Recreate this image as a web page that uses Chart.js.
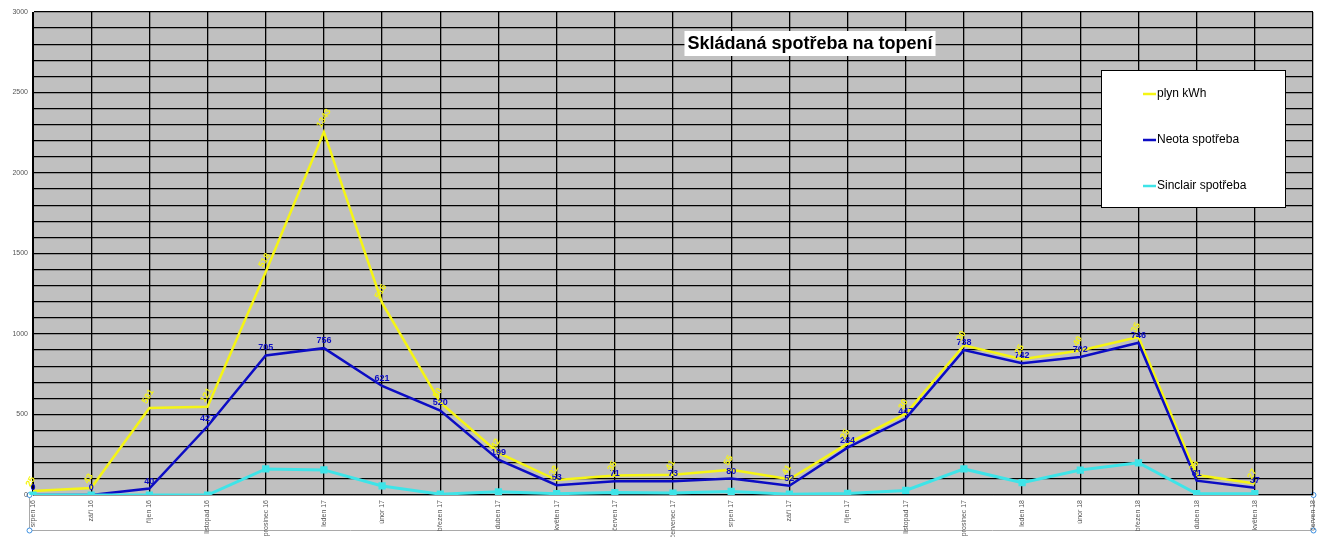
<!DOCTYPE html>
<html>
<head>
<meta charset="utf-8">
<script src="https://cdn.jsdelivr.net/npm/chart.js@4/dist/chart.umd.min.js"></script>
<style>
  body { margin: 0; background: #fff; }
  #wrap { width: 1321px; height: 537px; }
</style>
</head>
<body>
<div id="wrap"><canvas id="spotreba" width="1321" height="537"></canvas></div>
<script>
const months = [
  "srpen 16", "září 16", "říjen 16", "listopad 16", "prosinec 16",
  "leden 17", "únor 17", "březen 17", "duben 17", "květen 17",
  "červen 17", "červenec 17", "srpen 17", "září 17", "říjen 17",
  "listopad 17", "prosinec 17", "leden 18", "únor 18", "březen 18",
  "duben 18", "květen 18", "červen 18",
];
const sinclair = [0, 0, 0, 0, 162, 156, 56, 5, 20, 8, 15, 12, 22, 5, 10, 28, 162, 77, 155, 200, 8, 8, null];
const neota = [0, 0, 40, 427, 705, 756, 621, 520, 199, 53, 71, 73, 80, 52, 284, 447, 738, 742, 702, 746, 81, 37, null];
const plyn = [25, 43, 501, 121, 518, 1343, 516, 50, 42, 32, 35, 41, 55, 41, 25, 30, 30, 25, 40, 35, 35, 27, null];

const yMax = 3000;
const labelEvery = 500;

const YELLOW = "#f5f514";
const BLUE = "#0c0cc4";
const CYAN = "#3ee4e8";

// grey plot area + the thin frame round the axis labels
const background = {
  id: "background",
  beforeDraw(chart) {
    const { ctx, chartArea: a } = chart;
    ctx.save();
    ctx.fillStyle = "#c0c0c0";
    ctx.fillRect(a.left, a.top, a.right - a.left, a.bottom - a.top);
    ctx.strokeStyle = "#a9a9a9";
    ctx.lineWidth = 1;
    ctx.beginPath();
    ctx.moveTo(29.5, a.bottom);
    ctx.lineTo(29.5, 530.5);
    ctx.lineTo(a.right + 0.5, 530.5);
    ctx.lineTo(a.right + 0.5, a.bottom);
    ctx.stroke();
    ctx.fillStyle = "#fff";
    ctx.strokeStyle = "#3a8ee0";
    [[29.5, a.bottom], [29.5, 530.5], [a.right + 0.5, a.bottom], [a.right + 0.5, 530.5]].forEach(([x, y]) => {
      ctx.beginPath();
      ctx.arc(x, y, 2.5, 0, Math.PI * 2);
      ctx.fill();
      ctx.stroke();
    });
    ctx.restore();
  },
};

// value labels: Neota upright in blue, plyn tilted in yellow
const valueLabels = {
  id: "valueLabels",
  afterDatasetsDraw(chart) {
    const { ctx } = chart;
    ctx.save();
    const neotaMeta = chart.getDatasetMeta(1);
    ctx.font = "bold 9px 'Liberation Sans', Arial, sans-serif";
    ctx.fillStyle = BLUE;
    ctx.textAlign = "center";
    ctx.textBaseline = "bottom";
    neotaMeta.data.forEach((p, i) => {
      if (neota[i] == null) return;
      ctx.fillText(String(neota[i]), p.x, p.y - 3);
    });
    const plynMeta = chart.getDatasetMeta(2);
    ctx.font = "bold 9px 'Liberation Sans', Arial, sans-serif";
    ctx.fillStyle = YELLOW;
    ctx.textAlign = "left";
    ctx.textBaseline = "middle";
    plynMeta.data.forEach((p, i) => {
      if (plyn[i] == null) return;
      ctx.save();
      ctx.translate(p.x - 5, p.y - 5);
      ctx.rotate(-Math.PI / 3);
      ctx.fillText(String(plyn[i]), 0, 0);
      ctx.restore();
    });
    ctx.restore();
  },
};

const titleBox = {
  id: "titleBox",
  afterDraw(chart) {
    const { ctx } = chart;
    const text = "Skládaná spotřeba na topení";
    ctx.save();
    ctx.font = "bold 18px 'Liberation Sans', Arial, sans-serif";
    const w = ctx.measureText(text).width;
    const cx = 810;
    ctx.fillStyle = "#fff";
    ctx.fillRect(cx - w / 2 - 3, 31, w + 6, 25);
    ctx.fillStyle = "#000";
    ctx.textAlign = "center";
    ctx.textBaseline = "middle";
    ctx.fillText(text, cx, 44);
    ctx.restore();
  },
};

const legendBox = {
  id: "legendBox",
  afterDraw(chart) {
    const { ctx } = chart;
    const items = [
      ["plyn kWh", YELLOW],
      ["Neota spotřeba", BLUE],
      ["Sinclair spotřeba", CYAN],
    ];
    ctx.save();
    ctx.fillStyle = "#fff";
    ctx.fillRect(1101, 70, 184, 137);
    ctx.strokeStyle = "#000";
    ctx.lineWidth = 1;
    ctx.strokeRect(1101.5, 70.5, 184, 137);
    ctx.font = "12px 'Liberation Sans', Arial, sans-serif";
    ctx.textBaseline = "middle";
    items.forEach(([label, color], i) => {
      const y = 94 + i * 46;
      ctx.strokeStyle = color;
      ctx.lineWidth = 2.5;
      ctx.beginPath();
      ctx.moveTo(1143, y);
      ctx.lineTo(1156, y);
      ctx.stroke();
      ctx.fillStyle = "#000";
      ctx.fillText(label, 1157, y);
    });
    ctx.restore();
  },
};

new Chart(document.getElementById("spotreba"), {
  type: "line",
  data: {
    labels: months,
    datasets: [
      {
        label: "Sinclair spotřeba",
        data: sinclair,
        borderColor: CYAN,
        backgroundColor: CYAN,
        borderWidth: 3,
        pointStyle: "rect",
        pointRadius: 3,
        fill: false,
        tension: 0,
      },
      {
        label: "Neota spotřeba",
        data: neota,
        borderColor: BLUE,
        backgroundColor: BLUE,
        borderWidth: 2.5,
        pointRadius: 0,
        fill: false,
        tension: 0,
      },
      {
        label: "plyn kWh",
        data: plyn,
        borderColor: YELLOW,
        backgroundColor: YELLOW,
        borderWidth: 2.5,
        pointRadius: 0,
        fill: false,
        tension: 0,
      },
    ],
  },
  options: {
    responsive: false,
    animation: false,
    layout: { padding: { top: 12, right: 8, left: 0, bottom: 0 } },
    plugins: {
      legend: { display: false },
      title: { display: false },
      tooltip: { enabled: false },
    },
    scales: {
      x: {
        offset: false,
        grid: { color: "#000", lineWidth: 1.3, drawTicks: false },
        border: { color: "#9a9a9a" },
        ticks: {
          autoSkip: false,
          minRotation: 90,
          maxRotation: 90,
          padding: 5,
          color: "#555",
          font: { size: 7, family: "'Liberation Sans', Arial, sans-serif" },
        },
        afterFit(scale) {
          scale.height = 42;
          scale.paddingLeft = 0;
          scale.paddingRight = 0;
        },
      },
      y: {
        stacked: true,
        min: 0,
        max: yMax,
        grid: { color: "#000", lineWidth: 1.3, drawTicks: false },
        border: { color: "#000" },
        ticks: {
          stepSize: 100,
          autoSkip: false,
          padding: 5,
          color: "#555",
          font: { size: 7, family: "'Liberation Sans', Arial, sans-serif" },
          callback: (v) => (v % labelEvery === 0 ? v : ""),
        },
        afterFit(scale) { scale.width = 33; },
      },
    },
  },
  plugins: [background, valueLabels, titleBox, legendBox],
});
</script>
</body>
</html>
